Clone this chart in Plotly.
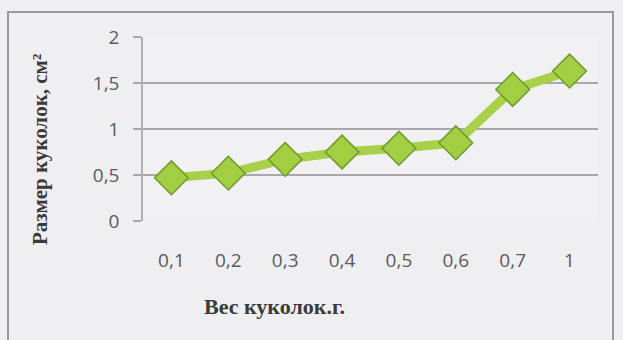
import plotly.graph_objects as go

categories = ["0,1", "0,2", "0,3", "0,4", "0,5", "0,6", "0,7", "1"]
sizes = [0.47, 0.52, 0.67, 0.75, 0.79, 0.85, 1.43, 1.63]
y_ticks = [0, 0.5, 1, 1.5, 2]
y_ticktext = ["0", "0,5", "1", "1,5", "2"]

W, H = 623, 340
L, R, T, B = 143, 25, 37, 119
PW, PH = W - L - R, H - T - B

def px_x(px):
    return (px - L) / PW

def px_y(py):
    return (H - B - py) / PH

tick_font = dict(family="Open Sans, Calibri, sans-serif", size=19, color="#5a5a5a")

fig = go.Figure()
fig.add_trace(go.Scatter(
    x=categories, y=sizes, mode="lines+markers",
    line=dict(color="#a8d04a", width=9),
    marker=dict(symbol="diamond", size=26, color="#a2ce42",
                line=dict(color="#6f9a2c", width=1.5)),
    showlegend=False,
))

fig.update_layout(
    width=W, height=H,
    margin=dict(l=L, r=R, t=T, b=B),
    paper_bgcolor="#efeff1",
    plot_bgcolor="#f1f1f3",
    xaxis=dict(
        type="category", range=[-0.5, len(categories) - 0.5],
        showgrid=False, zeroline=False, showline=False,
        ticks="", ticklabelstandoff=26,
        tickfont=tick_font,
    ),
    yaxis=dict(
        range=[0, 2], tickvals=y_ticks, ticktext=y_ticktext,
        showgrid=True, gridcolor="#a8a8aa", gridwidth=1.5,
        zeroline=False, showline=True, linecolor="#b0b0b2", linewidth=1.5,
        ticks="outside", ticklen=8, tickcolor="#a8a8aa", tickwidth=1.5,
        ticklabelstandoff=10,
        tickfont=tick_font,
    ),
    annotations=[
        dict(text="Вес куколок.г.", xref="paper", yref="paper",
             x=px_x(274), y=px_y(306), showarrow=False,
             xanchor="center", yanchor="middle",
             font=dict(family="Liberation Serif, Times New Roman, serif", size=22,
                       color="#3a3a3a", weight="bold")),
        dict(text="Размер куколок, см²", xref="paper", yref="paper",
             x=px_x(40), y=px_y(150), showarrow=False, textangle=-90,
             xanchor="center", yanchor="middle",
             font=dict(family="Liberation Serif, Times New Roman, serif", size=21,
                       color="#3a3a3a", weight="bold")),
    ],
    shapes=[
        dict(type="rect", xref="paper", yref="paper",
             x0=px_x(8), x1=px_x(613), y0=px_y(345), y1=px_y(12),
             line=dict(color="#9a9a9c", width=2), fillcolor="rgba(0,0,0,0)", layer="below"),
    ],
)

fig.write_html("out.html")
